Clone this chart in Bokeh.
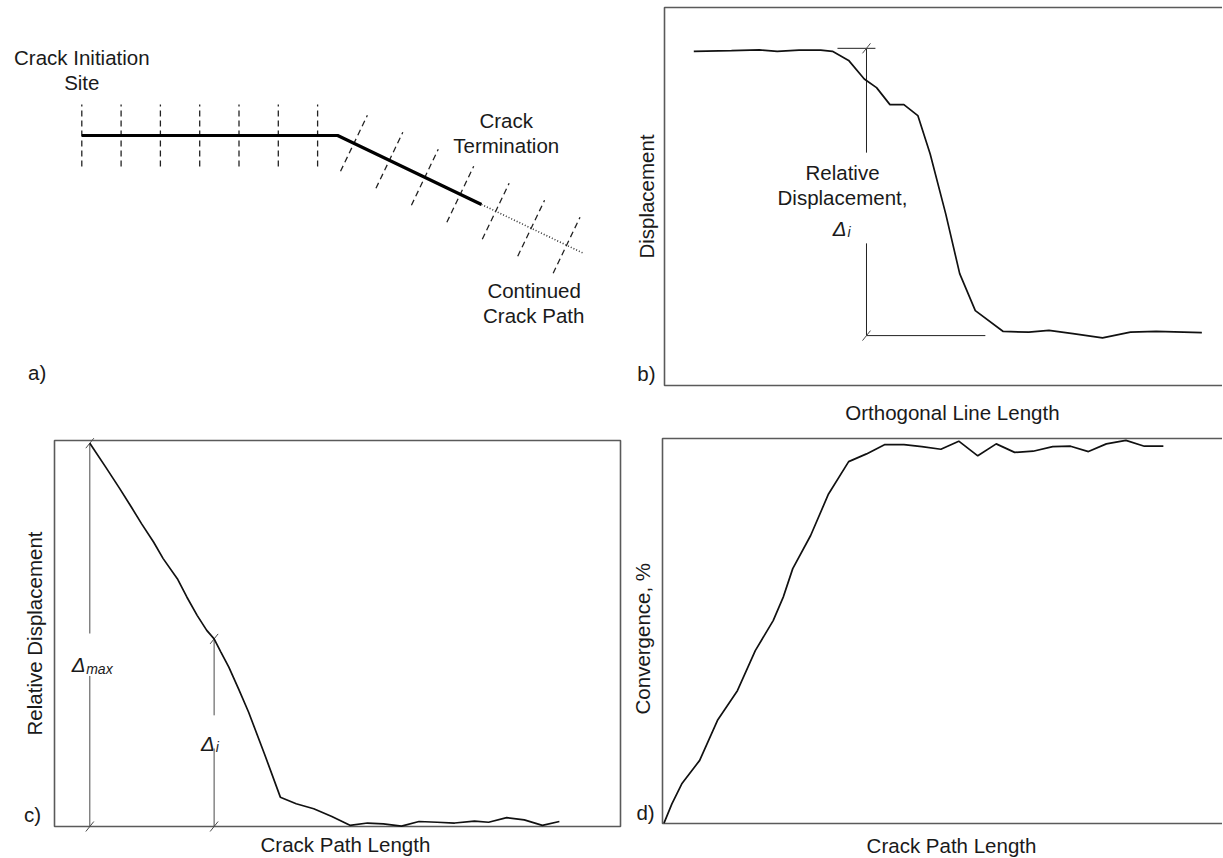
import math
from bokeh.plotting import figure
from bokeh.layouts import column, row
from bokeh.models import Range1d
from bokeh.core.properties import value
from bokeh.embed import file_html
from bokeh.resources import INLINE

# ---------------- Panel a: schematic crack path (unit = spacing of orthogonal lines) -------------
crack_x = [0.0, 6.51, 10.17]          # initiation, kink, termination
crack_y = [0.0, 0.0, -1.754]
continued_x = [10.17, 12.77]          # continued (dotted) crack path
continued_y = [-1.754, -3.0]
straight_stations = [0, 1, 2, 3, 4, 5, 6]                      # along the first leg
kinked_stations = [0.46, 1.46, 2.46, 3.46, 4.46, 5.46, 6.46]   # distance past the kink
station_half = 0.79

# ---------------- Panel b: displacement along an orthogonal line (% of axes) ----------------------
b_x = [5.25, 12.0, 17.0, 20.2, 24.1, 28.0, 30.1, 33.0, 35.8, 38.0, 40.4, 42.9, 45.4,
       47.6, 50.4, 52.9, 55.7, 60.7, 65.3, 68.9, 73.2, 78.5, 83.5, 88.1, 96.3]
b_y = [88.4, 88.6, 88.8, 88.4, 88.7, 88.7, 88.4, 86.0, 81.1, 78.8, 74.3, 74.3, 71.4,
       61.3, 45.4, 29.6, 19.8, 14.3, 14.1, 14.6, 13.7, 12.6, 14.1, 14.3, 14.0]
b_delta_x = 36.2
b_delta_top = 89.2
b_delta_bottom = 13.2
b_top_ext = [31.0, 37.8]
b_bottom_ext = [36.2, 57.5]

# ---------------- Panel c: relative displacement along the crack path -------------------------------
c_x = [6.24, 9.05, 11.5, 13.6, 15.4, 17.5, 19.2, 21.7, 23.4, 25.2, 26.9, 28.2, 29.4, 30.8,
       32.5, 34.3, 37.1, 39.9, 42.7, 45.8, 49.0, 52.2, 55.3, 58.1, 61.3, 64.4, 67.6, 70.7,
       74.2, 76.7, 79.9, 83.0, 86.2, 89.2]
c_y = [99.3, 93.1, 87.6, 82.7, 78.4, 73.7, 69.4, 64.2, 59.4, 54.7, 50.8, 48.6, 45.2, 41.3,
       35.7, 29.6, 18.8, 7.6, 5.9, 4.6, 2.6, 0.3, 0.9, 0.7, 0.1, 1.3, 1.1, 0.9,
       1.4, 1.1, 2.3, 1.7, 0.3, 1.3]
c_delta_i_index = 11

# ---------------- Panel d: convergence along the crack path -----------------------------------------
d_x = [0.27, 1.68, 3.45, 6.65, 9.84, 13.4, 16.6, 19.8, 21.6, 23.3, 26.5, 29.7, 33.3, 36.5,
       39.7, 43.2, 46.4, 49.8, 53.0, 56.4, 59.7, 63.0, 66.3, 69.8, 73.0, 76.2, 79.4, 82.9,
       86.2, 89.6]
d_y = [0.1, 5.1, 10.3, 16.4, 26.8, 34.5, 44.9, 52.7, 58.8, 66.2, 74.8, 85.6, 94.0, 96.0,
       98.4, 98.4, 97.9, 97.2, 99.3, 95.5, 98.6, 96.4, 96.7, 97.9, 98.0, 96.6, 98.6, 99.5,
       98.0, 98.0]

# ---------------- styling / layout -------------------------------------------------------------------
FONT = "Liberation Sans"
FS = "20.5px"
SUB = "14px"
INK = "#1a1a1a"
BOX = "#5a5a5a"
DIM = "#4a4a4a"

# figure extents on the page (left, top, right, bottom) and axes boxes (value 0..100)
FIG_A = (0, 0, 630, 428)
FIG_B = (630, 0, 1222, 428)
FIG_C = (0, 428, 630, 857)
FIG_D = (630, 428, 1222, 857)
BOX_B = (664, 7, 1222, 385)
BOX_C = (54, 440, 620, 826)
BOX_D = (662, 438, 1221, 823)
A_ORIGIN = (81.3, 135.0)
A_UNIT = 39.3


def make_fig(fig_px, xr, yr):
    fl, ft, fr, fb = fig_px
    p = figure(width=fr - fl, height=fb - ft, x_range=xr, y_range=yr,
               output_backend="svg", toolbar_location=None,
               x_axis_type=None, y_axis_type=None, min_border=0,
               outline_line_color=None, background_fill_color="white",
               border_fill_color="white")
    return p


def box_panel(fig_px, box_px, right=100):
    fl, ft, fr, fb = fig_px
    bl, bt, br, bb = box_px
    sx = (br - bl) / 100.0
    sy = (bb - bt) / 100.0
    xr = Range1d((fl - bl) / sx, (fr - bl) / sx)
    yr = Range1d((bb - fb) / sy, (bb - ft) / sy)
    p = make_fig(fig_px, xr, yr)
    p.quad(left=[0], right=[right], bottom=[0], top=[100], fill_color=None,
           line_color=BOX, line_width=1.6)
    return p, sx, sy


def txt(p, x, y, s, size=FS, align="center", baseline="middle", angle=0.0, style="normal"):
    p.text(x=[x], y=[y], text=[s], text_font=value(FONT), text_font_size=value(size),
           text_align=align, text_baseline=baseline, angle=angle, text_color=INK,
           text_font_style=style)


def slash(p, xs, ys, sx, sy, color=DIM):
    p.segment(x0=[x - 4.0 / sx for x in xs], y0=[y - 5.0 / sy for y in ys],
              x1=[x + 4.0 / sx for x in xs], y1=[y + 5.0 / sy for y in ys],
              line_color=color, line_width=1.0)


# ---------------- Panel a ----------------
ax0, ay0 = A_ORIGIN
pa = make_fig(FIG_A,
              Range1d((FIG_A[0] - ax0) / A_UNIT, (FIG_A[2] - ax0) / A_UNIT),
              Range1d((ay0 - FIG_A[3]) / A_UNIT, (ay0 - FIG_A[1]) / A_UNIT))
# orthogonal lines on the straight leg
pa.segment(x0=[crack_x[0] + s for s in straight_stations], y0=[-station_half] * len(straight_stations),
           x1=[crack_x[0] + s for s in straight_stations], y1=[station_half] * len(straight_stations),
           line_color="#222222", line_width=1.3, line_dash="6 4")
# orthogonal lines on the kinked leg
ddx = crack_x[2] - crack_x[1]
ddy = crack_y[2] - crack_y[1]
L = math.hypot(ddx, ddy)
ux, uy = ddx / L, ddy / L
nx, ny = -uy, ux
cx = [crack_x[1] + s * ux for s in kinked_stations]
cy = [crack_y[1] + s * uy for s in kinked_stations]
pa.segment(x0=[x - station_half * nx for x in cx], y0=[y - station_half * ny for y in cy],
           x1=[x + station_half * nx for x in cx], y1=[y + station_half * ny for y in cy],
           line_color="#222222", line_width=1.3, line_dash="6 4")
pa.line(crack_x, crack_y, line_color="black", line_width=3.2)
pa.line(continued_x, continued_y, line_color="#333333", line_width=1.6, line_dash="1 2")
txt(pa, 0.0, 1.985, "Crack Initiation")
txt(pa, 0.0, 1.35, "Site")
txt(pa, 10.80, 0.382, "Crack")
txt(pa, 10.80, -0.254, "Termination")
txt(pa, 11.51, -3.944, "Continued")
txt(pa, 11.50, -4.58, "Crack Path")
txt(pa, -1.135, -6.03, "a)")

# ---------------- Panel b ----------------
pb, sbx, sby = box_panel(FIG_B, BOX_B, right=101)
pb.segment(x0=[b_top_ext[0], b_bottom_ext[0], b_delta_x, b_delta_x],
           y0=[b_delta_top, b_delta_bottom, b_delta_top, 37.6],
           x1=[b_top_ext[1], b_bottom_ext[1], b_delta_x, b_delta_x],
           y1=[b_delta_top, b_delta_bottom, 61.6, b_delta_bottom],
           line_color="#222222", line_width=1.0)
slash(pb, [b_delta_x, b_delta_x], [b_delta_top, b_delta_bottom], sbx, sby)
pb.line(b_x, b_y, line_color="#111111", line_width=1.7)
txt(pb, 31.9, 56.3, "Relative")
txt(pb, 31.9, 49.7, "Displacement,")
txt(pb, 32.6, 41.5, "Δ", align="right", baseline="alphabetic", style="italic")
txt(pb, 32.8, 40.7, "i", size=SUB, align="left", baseline="alphabetic", style="italic")
txt(pb, -3.23, 50.0, "Displacement", angle=math.pi / 2)
txt(pb, -3.23, 3.2, "b)")
txt(pb, 51.6, -7.1, "Orthogonal Line Length")

# ---------------- Panel c ----------------
pc, scx, scy = box_panel(FIG_C, BOX_C)
xm, ym = c_x[0], c_y[0]
xi, yi = c_x[c_delta_i_index], c_y[c_delta_i_index]
pc.segment(x0=[xm, xm, xi, xi], y0=[ym, 39.0, yi, 20.2],
           x1=[xm, xm, xi, xi], y1=[50.0, 0.0, 28.8, 0.0],
           line_color=DIM, line_width=1.0)
slash(pc, [xm, xm, xi, xi], [ym, 0.0, yi, 0.0], scx, scy)
pc.line(c_x, c_y, line_color="#111111", line_width=1.7)
txt(pc, 5.48, 42.0, "Δ", align="right", baseline="alphabetic", style="italic")
txt(pc, 5.6, 40.9, "max", size=SUB, align="left", baseline="alphabetic", style="italic")
txt(pc, 28.3, 21.5, "Δ", align="right", baseline="alphabetic", style="italic")
txt(pc, 28.5, 20.7, "i", size=SUB, align="left", baseline="alphabetic", style="italic")
txt(pc, -3.53, 50.0, "Relative Displacement", angle=math.pi / 2)
txt(pc, -3.9, 3.1, "c)")
txt(pc, 51.4, -4.66, "Crack Path Length")

# ---------------- Panel d ----------------
pd_, sdx, sdy = box_panel(FIG_D, BOX_D, right=101)
pd_.line(d_x, d_y, line_color="#111111", line_width=1.7)
txt(pd_, -3.58, 48.0, "Convergence, %", angle=math.pi / 2)
txt(pd_, -3.04, 2.9, "d)")
txt(pd_, 51.7, -5.7, "Crack Path Length")

layout = column(row(pa, pb), row(pc, pd_))
open("out.html", "w").write(file_html(layout, INLINE))
